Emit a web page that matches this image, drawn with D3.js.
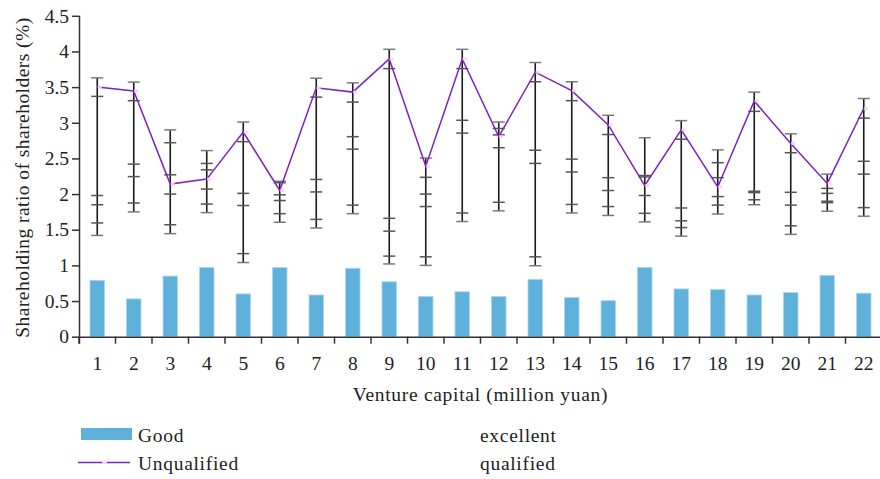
<!DOCTYPE html>
<html>
<head>
<meta charset="utf-8">
<script src="https://cdn.jsdelivr.net/npm/d3@7"></script>
<style>
  html, body { margin: 0; padding: 0; background: #fff; }
  svg { display: block; }
  text { font-family: "Liberation Serif", "DejaVu Serif", serif; fill: #222; }
</style>
</head>
<body>
<svg id="chart" width="880" height="479"></svg>
<script>
// ---------------- data ----------------
const categories = ["1","2","3","4","5","6","7","8","9","10","11","12","13","14","15","16","17","18","19","20","21","22"];
const yTicks = [0, 0.5, 1, 1.5, 2, 2.5, 3, 3.5, 4, 4.5];

// Bars: "Good"
const good = [0.79, 0.53, 0.85, 0.97, 0.60, 0.97, 0.585, 0.96, 0.77, 0.565, 0.63,
              0.565, 0.805, 0.55, 0.505, 0.97, 0.67, 0.66, 0.585, 0.62, 0.86, 0.61];

// Line: "Unqualified"
const unqualified = [3.50, 3.445, 2.14, 2.21, 2.87, 2.05, 3.49, 3.43, 3.895, 2.39, 3.895,
                     2.805, 3.71, 3.45, 2.97, 2.12, 2.90, 2.10, 3.305, 2.71, 2.15, 3.20];

// Error bar cap levels (six caps per category, top to bottom)
const capTop1 = [3.63, 3.57, 2.90, 2.61, 3.01, 2.18, 3.625, 3.56, 4.03, 2.505, 4.03,
                 3.01, 3.845, 3.575, 3.105, 2.79, 3.03, 2.62, 3.43, 2.845, 2.28, 3.34];
const capTop2 = [3.37, 3.31, 2.72, 2.43, 2.735, 2.16, 3.36, 3.29, 3.76, 2.235, 3.76,
                 2.92, 3.575, 3.31, 2.835, 2.26, 2.77, 2.44, 3.16, 2.58, 2.08, 3.065];
const capMid1 = [1.98, 2.42, 2.27, 2.34, 2.01, 1.99, 2.205, 2.805, 1.66, 2.00, 3.035,
                 2.83, 2.615, 2.49, 2.23, 2.24, 1.805, 2.23, 2.04, 2.025, 2.01, 2.46];
const capMid2 = [1.85, 2.245, 2.00, 2.07, 1.84, 1.91, 2.03, 2.63, 1.48, 1.825, 2.855,
                 2.65, 2.43, 2.31, 2.05, 1.98, 1.625, 1.965, 2.02, 1.845, 1.90, 2.28];
const capLow1 = [1.595, 1.875, 1.57, 1.86, 1.165, 1.725, 1.645, 1.845, 1.13, 1.12, 1.735,
                 1.885, 1.12, 1.855, 1.825, 1.73, 1.53, 1.845, 1.92, 1.555, 1.88, 1.81];
const capLow2 = [1.42, 1.75, 1.445, 1.74, 1.04, 1.605, 1.525, 1.725, 1.02, 1.00, 1.615,
                 1.765, 0.995, 1.735, 1.70, 1.61, 1.41, 1.72, 1.85, 1.435, 1.76, 1.69];

const legendItems = ["Good", "Unqualified", "excellent", "qualified"];
const xTitle = "Venture capital (million yuan)";
const yTitle = "Shareholding ratio of shareholders (%)";

// ---------------- layout ----------------
const svg = d3.select("#chart");
const plotLeft = 79, plotRight = 882, plotTop = 15.8, plotBottom = 336.7;
const fs = 19.5, ls = 0.7;

const x = d3.scaleBand().domain(categories).range([plotLeft, plotRight]).paddingInner(0).paddingOuter(0);
const y = d3.scaleLinear().domain([0, 4.5]).range([plotBottom, plotTop]);
const cx = c => x(c) + x.bandwidth() / 2;

const barColor = "#5fb1db";
const lineColor = "#7d22c4";
const axisColor = "#333";

// ---------------- bars ----------------
const barW = 14.5;
svg.append("g").selectAll("rect")
  .data(categories)
  .join("rect")
  .attr("x", c => cx(c) - barW / 2)
  .attr("width", barW)
  .attr("y", (c, i) => y(good[i]))
  .attr("height", (c, i) => y(0) - y(good[i]))
  .attr("fill", barColor)
  .attr("stroke", "#a9d8f0")
  .attr("stroke-width", 0.8);

// ---------------- error bars ----------------
const capSets = [capTop1, capTop2, capMid1, capMid2, capLow1, capLow2];
const eb = svg.append("g");
categories.forEach((c, i) => {
  const levels = capSets.map(a => a[i]);
  const hi = d3.max(levels), lo = d3.min(levels);
  eb.append("line")
    .attr("x1", cx(c)).attr("x2", cx(c))
    .attr("y1", y(hi)).attr("y2", y(lo))
    .attr("stroke", "#1a1a1a").attr("stroke-width", 1.6);
  levels.forEach((v, k) => {
    eb.append("line")
      .attr("x1", cx(c) - 6).attr("x2", cx(c) + 6)
      .attr("y1", y(v)).attr("y2", y(v))
      .attr("stroke", (k === 0 || k === 5) ? "#7a7a7a" : "#555")
      .attr("stroke-width", 1.5);
  });
});

// ---------------- line ----------------
const line = d3.line().x((d, i) => cx(categories[i])).y(d => y(d));
svg.append("path")
  .datum(unqualified)
  .attr("d", line)
  .attr("fill", "none")
  .attr("stroke", lineColor)
  .attr("stroke-width", 1.5);

svg.append("g").selectAll("rect")
  .data(unqualified)
  .join("rect")
  .attr("x", (d, i) => cx(categories[i]) + 0.5)
  .attr("y", d => y(d) - 1.5)
  .attr("width", 4)
  .attr("height", 3)
  .attr("fill", "#ffd2e6")
  .attr("opacity", 0.9);

// ---------------- axes ----------------
const yAxis = d3.axisLeft(y).tickValues(yTicks).tickFormat(d => String(d)).tickSize(7).tickSizeOuter(0).tickPadding(3);
const gy = svg.append("g").attr("transform", `translate(${plotLeft},0)`).call(yAxis);
gy.select(".domain").attr("stroke", axisColor).attr("stroke-width", 1.5)
  .attr("d", `M0.5,${plotTop}V${plotBottom + 7}`);
gy.selectAll(".tick line").attr("stroke", axisColor).attr("stroke-width", 1.5);
gy.selectAll(".tick text").attr("font-size", fs).attr("font-family", "Liberation Serif").attr("fill", "#222");

const xAxis = d3.axisBottom(x).tickSize(0).tickSizeOuter(0).tickPadding(19.5);
const gx = svg.append("g").attr("transform", `translate(0,${plotBottom})`).call(xAxis);
gx.select(".domain").attr("stroke", axisColor).attr("stroke-width", 1.5);
gx.selectAll(".tick text").attr("font-size", fs).attr("font-family", "Liberation Serif").attr("fill", "#222");
// boundary ticks
const bounds = categories.map(c => x(c)).concat([plotRight]);
gx.selectAll("line.bt").data(bounds).join("line").attr("class", "bt")
  .attr("x1", d => d).attr("x2", d => d).attr("y1", 0).attr("y2", 7)
  .attr("stroke", axisColor).attr("stroke-width", 1.5);

// titles
svg.append("text")
  .attr("x", 480.5).attr("y", 401)
  .attr("text-anchor", "middle")
  .attr("font-size", fs)
  .attr("letter-spacing", ls)
  .text(xTitle);

svg.append("text")
  .attr("transform", `translate(29,177.5) rotate(-90)`)
  .attr("text-anchor", "middle")
  .attr("font-size", fs)
  .attr("letter-spacing", 0.45)
  .text(yTitle);

// ---------------- legend ----------------
const lg = svg.append("g");
lg.append("rect").attr("x", 81).attr("y", 428).attr("width", 51).attr("height", 12).attr("fill", barColor);
lg.append("text").attr("x", 138).attr("y", 442).attr("font-size", fs).attr("letter-spacing", ls).text(legendItems[0]);
lg.append("line").attr("x1", 78).attr("x2", 130).attr("y1", 462.5).attr("y2", 462.5)
  .attr("stroke", lineColor).attr("stroke-width", 1.5);
lg.append("rect").attr("x", 102).attr("y", 461).attr("width", 5).attr("height", 3).attr("fill", "#ffd2e6");
lg.append("text").attr("x", 138).attr("y", 470).attr("font-size", fs).attr("letter-spacing", ls).text(legendItems[1]);
lg.append("text").attr("x", 480).attr("y", 442).attr("font-size", fs).attr("letter-spacing", ls).text(legendItems[2]);
lg.append("text").attr("x", 480).attr("y", 470).attr("font-size", fs).attr("letter-spacing", ls).text(legendItems[3]);
</script>
</body>
</html>
